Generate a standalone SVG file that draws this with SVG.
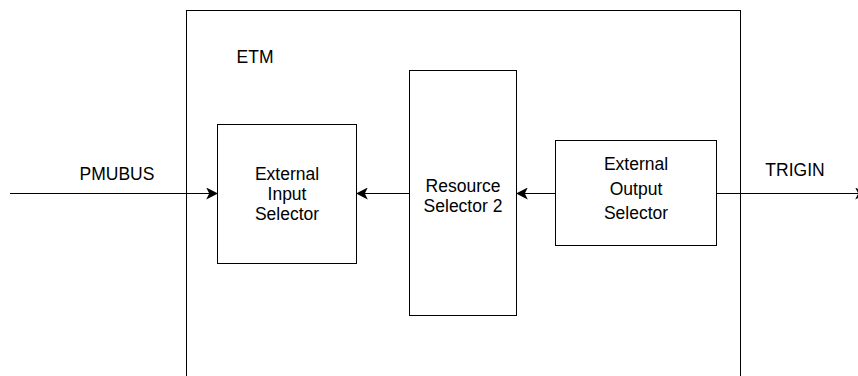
<svg xmlns="http://www.w3.org/2000/svg" width="858" height="376" viewBox="0 0 858 376">
  <style>
    .box { fill: #ffffff; stroke: #000000; stroke-width: 1; }
    .wire { fill: none; stroke: #000000; stroke-width: 1; }
    text { font-family: "Liberation Sans", Arial, Helvetica, sans-serif; font-size: 17.5px; fill: #000000; }
    .c { text-anchor: middle; }
  </style>
  <defs>
    <marker id="arrow" viewBox="0 0 10 10" refX="9" refY="5" markerWidth="12" markerHeight="12" markerUnits="userSpaceOnUse" orient="auto">
      <path d="M0,0 L10,5 L0,10 L2.5,5 Z" fill="#000000"/>
    </marker>
  </defs>

  <g id="etm">
    <rect class="box" x="186.5" y="10.5" width="554" height="390"/>
    <text x="255" y="63" class="c">ETM</text>
  </g>

  <g id="external-input-selector">
    <rect class="box" x="217.5" y="124.5" width="139" height="139"/>
    <text x="287" y="180" class="c">External</text>
    <text x="287" y="200" class="c">Input</text>
    <text x="287" y="220" class="c">Selector</text>
  </g>

  <g id="resource-selector-2">
    <rect class="box" x="409.5" y="70.5" width="107" height="245"/>
    <text x="463" y="192" class="c">Resource</text>
    <text x="463" y="212" class="c">Selector 2</text>
  </g>

  <g id="external-output-selector">
    <rect class="box" x="555.5" y="140.5" width="161" height="105"/>
    <text x="636" y="170" class="c">External</text>
    <text x="636" y="195" class="c">Output</text>
    <text x="636" y="219" class="c">Selector</text>
  </g>

  <g id="labels">
    <text x="117" y="180" class="c">PMUBUS</text>
    <text x="795" y="176" class="c">TRIGIN</text>
  </g>

  <g id="connectors">
    <line class="wire" x1="10" y1="193.5" x2="217" y2="193.5" marker-end="url(#arrow)"/>
    <line class="wire" x1="409" y1="193.5" x2="357" y2="193.5" marker-end="url(#arrow)"/>
    <line class="wire" x1="555" y1="193.5" x2="517" y2="193.5" marker-end="url(#arrow)"/>
    <line class="wire" x1="717" y1="193.5" x2="866" y2="193.5" marker-end="url(#arrow)"/>
  </g>
</svg>
